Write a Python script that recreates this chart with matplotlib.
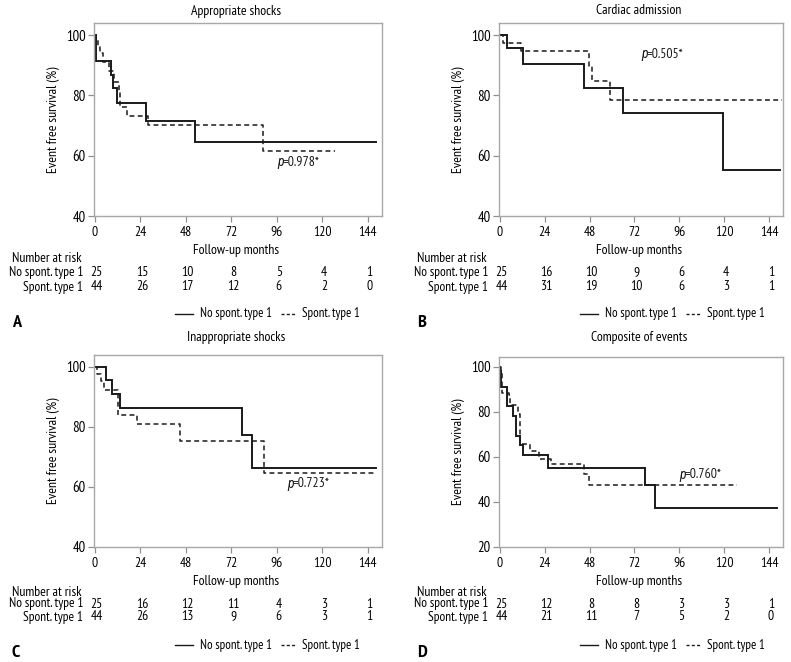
import matplotlib
matplotlib.use("Agg")
import matplotlib.pyplot as plt
from matplotlib import font_manager
from matplotlib.transforms import blended_transform_factory, offset_copy
from matplotlib.lines import Line2D

names = {f.name for f in font_manager.fontManager.ttflist}
FONT = "Liberation Sans"
for cand in ["PT Sans Narrow", "Roboto Condensed", "Archivo Narrow", "Liberation Sans Narrow"]:
    if cand in names:
        FONT = cand
        break
ITFONT = "Roboto Condensed" if "Roboto Condensed" in names else FONT
plt.rcParams["font.family"] = [FONT, "DejaVu Sans"]

# ---------------- data ----------------
titles = ["Appropriate shocks", "Cardiac admission", "Inappropriate shocks", "Composite of events"]
panel_letters = ["A", "B", "C", "D"]
xticks = [0, 24, 48, 72, 96, 120, 144]
group_labels = ["No spont. type 1", "Spont. type 1"]
pvalues = ["0.978*", "0.505*", "0.723*", "0.760*"]

A_no_t = [0, 0.5, 8.3, 9.7, 11.8, 26.9, 52.9, 148.5]
A_no_s = [100, 91.3, 86.9, 82.6, 77.4, 71.6, 64.6, 64.6]
A_sp_t = [0, 0.8, 1.5, 2.5, 4.5, 7.5, 10.0, 12.5, 13.3, 17.0, 28.0, 88.8, 126.5]
A_sp_s = [100, 98.3, 96.3, 93.9, 91.1, 88.0, 84.4, 81.5, 76.1, 73.1, 70.3, 61.4, 61.4]

B_no_t = [0, 3.8, 12.2, 45.0, 65.6, 119.5, 149.7]
B_no_s = [100, 95.6, 90.4, 82.4, 74.2, 55.3, 55.3]
B_sp_t = [0, 1.7, 11.3, 47.7, 49.4, 58.8, 151.0]
B_sp_s = [100, 97.4, 94.7, 89.9, 84.7, 78.6, 78.6]

C_no_t = [0, 5.8, 9.1, 13.2, 77.7, 83.0, 148.5]
C_no_s = [100, 95.7, 91.1, 86.4, 77.2, 66.4, 66.4]
C_sp_t = [0, 1.2, 3.2, 4.7, 12.0, 22.0, 45.0, 89.1, 148.5]
C_sp_s = [100, 97.8, 95.3, 92.4, 84.1, 81.1, 75.3, 64.6, 64.6]

D_no_t = [0, 0.2, 0.5, 3.8, 7.2, 8.8, 10.6, 12.2, 25.5, 77.5, 82.8, 148.5]
D_no_s = [100, 98.0, 91.1, 82.7, 78.1, 69.3, 65.2, 60.8, 55.2, 47.4, 37.5, 37.5]
D_sp_t = [0, 0.4, 1.2, 4.7, 5.6, 9.7, 10.9, 15.9, 21.0, 27.4, 45.0, 47.6, 126.8]
D_sp_s = [100, 97.7, 88.4, 87.5, 83.3, 79.3, 65.6, 62.5, 59.3, 57.0, 52.6, 47.6, 47.6]

risk_no = [[25, 15, 10, 8, 5, 4, 1],
           [25, 16, 10, 9, 6, 4, 1],
           [25, 16, 12, 11, 4, 3, 1],
           [25, 12, 8, 8, 3, 3, 1]]
risk_sp = [[44, 26, 17, 12, 6, 2, 0],
           [44, 31, 19, 10, 6, 3, 1],
           [44, 26, 13, 9, 6, 3, 1],
           [44, 21, 11, 7, 5, 2, 0]]

curves = [(A_no_t, A_no_s, A_sp_t, A_sp_s),
          (B_no_t, B_no_s, B_sp_t, B_sp_s),
          (C_no_t, C_no_s, C_sp_t, C_sp_s),
          (D_no_t, D_no_s, D_sp_t, D_sp_s)]
ylims = [(40, 104), (40, 104), (40, 104), (20, 104.4)]
yticks = [[40, 60, 80, 100], [40, 60, 80, 100], [40, 60, 80, 100], [20, 40, 60, 80, 100]]
pv_pos = [(96, 57.8), (75.7, 93.7), (101.4, 61.1), (96, 52.2)]

# ---------------- layout (pixels) ----------------
W, H = 791, 662
fig = plt.figure(figsize=(W / 100, H / 100), dpi=100)
# left, right, top, bottom
rects = [(94, 382, 23, 216), (499, 783, 23, 216), (94, 382, 355, 547), (499, 783, 357, 547)]
row_y = [dict(title=11, xl=250, nar=258, r1=273, r2=287, leg=314, let=323),
         dict(title=11, xl=250, nar=258, r1=273, r2=287, leg=314, let=323),
         dict(title=338, xl=582, nar=592, r1=604, r2=617, leg=645, let=653),
         dict(title=338, xl=582, nar=592, r1=604, r2=617, leg=645, let=653)]

LC = "#1a1a1a"
SC = "#a8a8a8"
FS = 9.6

def fx(px):
    return px / W

def fy(py):
    return 1 - py / H

for i in range(4):
    l, r, t, b = rects[i]
    ax = fig.add_axes([fx(l), fy(b), (r - l) / W, (b - t) / H])
    nt, ns, st, ss = curves[i]
    ax.step(nt, ns, where="post", color=LC, lw=1.4, solid_joinstyle="miter")
    ax.step(st, ss, where="post", color=LC, lw=1.1, linestyle=(0, (3.2, 2.2)))
    ax.set_xlim(-0.5, 151.5)
    ax.set_ylim(*ylims[i])
    ax.set_xticks(xticks)
    ax.set_yticks(yticks[i])
    ax.set_xticklabels([str(v) for v in xticks], fontsize=FS + 0.2)
    ax.set_yticklabels([str(v) for v in yticks[i]], fontsize=FS + 1.0)
    for s in ax.spines.values():
        s.set_color(SC)
        s.set_linewidth(1.0)
    ax.tick_params(direction="out", length=4, width=0.9, color="#909090", pad=2)
    ax.tick_params(axis="x", pad=3)
    # p-value: italic p followed by the value
    ax.text(pv_pos[i][0], pv_pos[i][1], "p", fontsize=FS + 0.3, color=LC,
            ha="left", va="center", family=[ITFONT, "DejaVu Sans"], style="italic")
    ax.text(pv_pos[i][0], pv_pos[i][1], "=" + pvalues[i], fontsize=FS + 0.3, color=LC,
            ha="left", va="center",
            transform=offset_copy(ax.transData, fig=fig, x=5.5, y=0, units="dots"))

    cx = (l + r) / 2
    fig.text(fx(cx - 2), fy(row_y[i]["title"]), titles[i], fontsize=FS + 0.3,
             ha="center", va="center")
    fig.text(fx(l - 41), fy((t + b) / 2), "Event free survival (%)", fontsize=FS + 0.3,
             rotation=90, ha="center", va="center")
    fig.text(fx(cx - 2), fy(row_y[i]["xl"]), "Follow-up months", fontsize=FS + 0.3,
             ha="center", va="center")
    fig.text(fx(l - 82), fy(row_y[i]["nar"]), "Number at risk", fontsize=FS + 0.3,
             ha="left", va="center")
    fig.text(fx(l - 11), fy(row_y[i]["r1"]), group_labels[0], fontsize=FS,
             ha="right", va="center")
    fig.text(fx(l - 11), fy(row_y[i]["r2"]), group_labels[1], fontsize=FS,
             ha="right", va="center")
    tr = blended_transform_factory(ax.transData, fig.transFigure)
    for k, xv in enumerate(xticks):
        fig.text(xv + 1, fy(row_y[i]["r1"]), str(risk_no[i][k]), fontsize=FS + 0.2,
                 ha="center", va="center", transform=tr)
        fig.text(xv + 1, fy(row_y[i]["r2"]), str(risk_sp[i][k]), fontsize=FS + 0.2,
                 ha="center", va="center", transform=tr)
    # legend
    ly = fy(row_y[i]["leg"])
    fig.add_artist(Line2D([fx(l + 81), fx(l + 99)], [ly, ly], color=LC, lw=1.0))
    fig.text(fx(l + 106), ly, group_labels[0], fontsize=FS - 0.3, ha="left", va="center")
    fig.add_artist(Line2D([fx(l + 187), fx(l + 202)], [ly, ly], color=LC, lw=1.0,
                          linestyle=(0, (2.2, 1.6))))
    fig.text(fx(l + 208), ly, group_labels[1], fontsize=FS - 0.3, ha="left", va="center")
    fig.text(fx(l - 82), fy(row_y[i]["let"]), panel_letters[i], fontsize=FS + 3.5,
             fontweight="bold", ha="left", va="center")

fig.savefig("out.png", dpi=100)
